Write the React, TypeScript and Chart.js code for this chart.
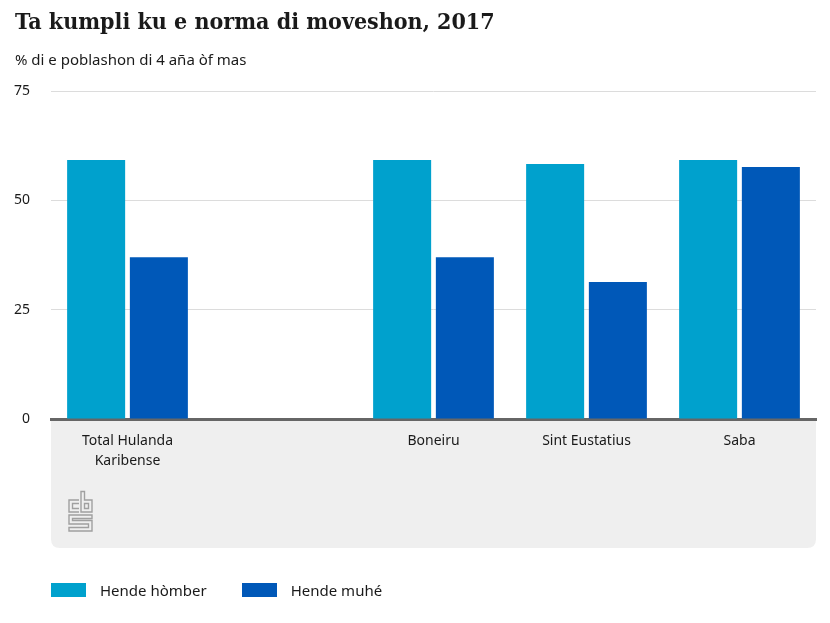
import React, { useEffect, useRef } from "react";
import { Chart, registerables } from "chart.js";

Chart.register(...registerables);

const TITLE = "Ta kumpli ku e norma di moveshon, 2017";
const SUBTITLE = "% di e poblashon di 4 aña òf mas";
const categories: (string | string[])[] = [["Total Hulanda", "Karibense"], "", "Boneiru", "Sint Eustatius", "Saba"];
const seriesNames = ["Hende hòmber", "Hende muhé"];
const menValues: (number | null)[] = [59.2, null, 59.2, 58.3, 59.2];
const womenValues: (number | null)[] = [37.0, null, 37.0, 31.3, 57.6];
const colors = ["#00a1cd", "#0058b8"];
const yTicks = [0, 25, 50, 75];

const BODY_FONT = "'Noto Sans', sans-serif";

const panelPlugin = {
  id: "panel",
  beforeDraw(chart: any) {
    const { ctx, chartArea } = chart;
    const xs = chart.scales.x;
    const left = chartArea.left;
    const right = chartArea.right;
    const top = chartArea.bottom;
    const bottom = xs.bottom;
    const r = 9;
    ctx.save();
    ctx.fillStyle = "#efefef";
    ctx.beginPath();
    ctx.moveTo(left, top);
    ctx.lineTo(right, top);
    ctx.lineTo(right, bottom - r);
    ctx.quadraticCurveTo(right, bottom, right - r, bottom);
    ctx.lineTo(left + r, bottom);
    ctx.quadraticCurveTo(left, bottom, left, bottom - r);
    ctx.closePath();
    ctx.fill();
    ctx.restore();
  },
  afterDraw(chart: any) {
    const { ctx, chartArea } = chart;
    const x0 = chartArea.left + 17;
    const y0 = chart.scales.x.bottom - 57;
    ctx.save();
    ctx.strokeStyle = "#a0a0a0";
    ctx.lineWidth = 1.4;
    // c
    ctx.beginPath();
    ctx.moveTo(x0 + 11, y0 + 9);
    ctx.lineTo(x0 + 1, y0 + 9);
    ctx.lineTo(x0 + 1, y0 + 21);
    ctx.lineTo(x0 + 11, y0 + 21);
    ctx.moveTo(x0 + 11, y0 + 12.5);
    ctx.lineTo(x0 + 4.5, y0 + 12.5);
    ctx.lineTo(x0 + 4.5, y0 + 17.5);
    ctx.lineTo(x0 + 11, y0 + 17.5);
    ctx.stroke();
    // b
    ctx.beginPath();
    ctx.moveTo(x0 + 13, y0 + 0.5);
    ctx.lineTo(x0 + 13, y0 + 21);
    ctx.lineTo(x0 + 24, y0 + 21);
    ctx.lineTo(x0 + 24, y0 + 9);
    ctx.lineTo(x0 + 16.5, y0 + 9);
    ctx.lineTo(x0 + 16.5, y0 + 0.5);
    ctx.closePath();
    ctx.rect(x0 + 16.5, y0 + 12.5, 4, 5);
    ctx.stroke();
    // s
    ctx.beginPath();
    ctx.moveTo(x0 + 24, y0 + 24);
    ctx.lineTo(x0 + 1, y0 + 24);
    ctx.lineTo(x0 + 1, y0 + 33);
    ctx.lineTo(x0 + 20.5, y0 + 33);
    ctx.lineTo(x0 + 20.5, y0 + 36.5);
    ctx.lineTo(x0 + 1, y0 + 36.5);
    ctx.lineTo(x0 + 1, y0 + 40);
    ctx.lineTo(x0 + 24, y0 + 40);
    ctx.lineTo(x0 + 24, y0 + 29.5);
    ctx.lineTo(x0 + 4.5, y0 + 29.5);
    ctx.lineTo(x0 + 4.5, y0 + 27.5);
    ctx.lineTo(x0 + 24, y0 + 27.5);
    ctx.closePath();
    ctx.stroke();
    ctx.restore();
  },
};

export default function App() {
  const ref = useRef<HTMLCanvasElement | null>(null);

  useEffect(() => {
    document.body.style.margin = "0";
    const canvas = ref.current;
    if (!canvas) return;
    const chart = new Chart(canvas, {
      type: "bar",
      data: {
        labels: categories,
        datasets: [
          {
            label: seriesNames[0],
            data: menValues,
            backgroundColor: colors[0],
            borderWidth: 0,
            categoryPercentage: 0.82,
            barPercentage: 0.925,
          },
          {
            label: seriesNames[1],
            data: womenValues,
            backgroundColor: colors[1],
            borderWidth: 0,
            categoryPercentage: 0.82,
            barPercentage: 0.925,
          },
        ],
      },
      options: {
        animation: false,
        responsive: false,
        devicePixelRatio: 1,
        layout: { padding: { top: 91, left: 14, right: 14, bottom: 75 } },
        plugins: {
          legend: { display: false },
          tooltip: { enabled: false },
          title: { display: false },
        },
        scales: {
          x: {
            grid: { display: false, drawTicks: false },
            border: { display: true, color: "#666666", width: 3 },
            ticks: {
              color: "#1a1a1a",
              font: { family: BODY_FONT, size: 14, lineHeight: 1.45 },
              padding: 12,
              maxRotation: 0,
              autoSkip: false,
            },
            afterFit(scale: any) {
              scale.height = 129;
            },
          },
          y: {
            min: 0,
            max: 75,
            afterBuildTicks(scale: any) {
              scale.ticks = yTicks.map((v) => ({ value: v }));
            },
            grid: { color: "#dcdcdc", lineWidth: 1, drawTicks: false },
            border: { display: false },
            ticks: {
              color: "#1a1a1a",
              font: { family: BODY_FONT, size: 14 },
              padding: 21,
            },
            afterFit(scale: any) {
              scale.width = 37;
            },
          },
        },
      },
      plugins: [panelPlugin],
    });
    return () => chart.destroy();
  }, []);

  const legendItem = (name: string, color: string, ml: number) => (
    <div style={{ display: "flex", alignItems: "center", marginLeft: ml }}>
      <div style={{ width: 35, height: 14, background: color }} />
      <span style={{ marginLeft: 14, fontFamily: BODY_FONT, fontSize: 15, color: "#1a1a1a" }}>{name}</span>
    </div>
  );

  return (
    <div style={{ position: "relative", width: 830, height: 623, background: "#fff" }}>
      <canvas ref={ref} width={830} height={623} style={{ position: "absolute", left: 0, top: 0 }} />
      <div
        style={{
          position: "absolute",
          left: 15,
          top: 7,
          fontFamily: "'DejaVu Serif Condensed', 'DejaVu Serif', serif",
          fontWeight: "bold",
          fontSize: 23,
          color: "#1a1a1a",
          whiteSpace: "nowrap",
        }}
      >
        {TITLE}
      </div>
      <div
        style={{
          position: "absolute",
          left: 15,
          top: 49,
          fontFamily: BODY_FONT,
          fontSize: 15,
          color: "#1a1a1a",
          whiteSpace: "nowrap",
        }}
      >
        {SUBTITLE}
      </div>
      <div style={{ position: "absolute", left: 51, top: 580, display: "flex" }}>
        {legendItem(seriesNames[0], colors[0], 0)}
        {legendItem(seriesNames[1], colors[1], 35)}
      </div>
    </div>
  );
}
